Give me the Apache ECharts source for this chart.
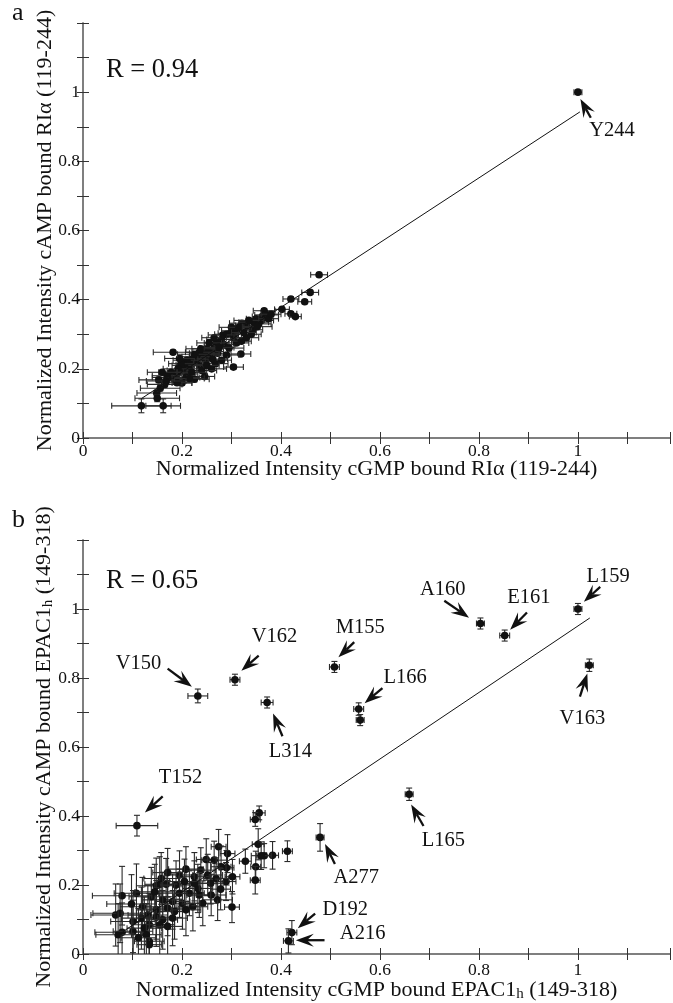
<!DOCTYPE html>
<html>
<head>
<meta charset="utf-8">
<script src="https://cdn.jsdelivr.net/npm/echarts@6/dist/echarts.min.js"></script>
<style>
  html, body { margin: 0; padding: 0; background: #fff; }
  #chart { width: 673px; height: 1003px; }
</style>
</head>
<body>
<div id="chart"></div>
<script>
// panel a: [x, y, xerr, yerr]
const aPoints = [
  [1.0, 1.0, 0.008, 0.004], [0.477, 0.472, 0.017, 0.006], [0.459, 0.421, 0.017, 0.006],
  [0.420, 0.402, 0.016, 0.006], [0.448, 0.394, 0.014, 0.006], [0.402, 0.372, 0.015, 0.006],
  [0.420, 0.359, 0.012, 0.005], [0.429, 0.351, 0.012, 0.005], [0.366, 0.368, 0.022, 0.006],
  [0.362, 0.351, 0.020, 0.006], [0.371, 0.356, 0.024, 0.006], [0.350, 0.345, 0.020, 0.006],
  [0.343, 0.313, 0.020, 0.006], [0.355, 0.330, 0.025, 0.006], [0.330, 0.325, 0.022, 0.006],
  [0.321, 0.332, 0.025, 0.006], [0.310, 0.310, 0.030, 0.006], [0.298, 0.303, 0.025, 0.006],
  [0.290, 0.300, 0.024, 0.006], [0.305, 0.290, 0.020, 0.006], [0.319, 0.243, 0.020, 0.005],
  [0.304, 0.205, 0.020, 0.006], [0.280, 0.285, 0.030, 0.006], [0.285, 0.270, 0.022, 0.006],
  [0.270, 0.275, 0.025, 0.006], [0.265, 0.260, 0.030, 0.006], [0.272, 0.245, 0.020, 0.006],
  [0.260, 0.250, 0.024, 0.006], [0.250, 0.258, 0.030, 0.006], [0.255, 0.240, 0.020, 0.006],
  [0.245, 0.245, 0.030, 0.006], [0.240, 0.232, 0.025, 0.006], [0.248, 0.225, 0.020, 0.006],
  [0.235, 0.248, 0.028, 0.006], [0.230, 0.235, 0.030, 0.006], [0.228, 0.220, 0.025, 0.006],
  [0.235, 0.210, 0.020, 0.006], [0.222, 0.230, 0.025, 0.006], [0.218, 0.212, 0.030, 0.006],
  [0.215, 0.200, 0.022, 0.006], [0.210, 0.225, 0.028, 0.006], [0.205, 0.210, 0.025, 0.006],
  [0.200, 0.195, 0.030, 0.006], [0.212, 0.185, 0.020, 0.006], [0.198, 0.215, 0.025, 0.006],
  [0.192, 0.200, 0.030, 0.006], [0.190, 0.185, 0.025, 0.006], [0.185, 0.170, 0.030, 0.006],
  [0.200, 0.159, 0.020, 0.006], [0.182, 0.248, 0.040, 0.006], [0.195, 0.230, 0.030, 0.006],
  [0.178, 0.190, 0.025, 0.006], [0.175, 0.175, 0.035, 0.006], [0.246, 0.178, 0.020, 0.008],
  [0.225, 0.170, 0.030, 0.008], [0.260, 0.200, 0.030, 0.006], [0.268, 0.215, 0.025, 0.006],
  [0.280, 0.225, 0.020, 0.006], [0.290, 0.240, 0.025, 0.006], [0.295, 0.260, 0.030, 0.006],
  [0.310, 0.275, 0.025, 0.006], [0.320, 0.280, 0.020, 0.006], [0.330, 0.290, 0.025, 0.006],
  [0.340, 0.300, 0.020, 0.006], [0.345, 0.335, 0.030, 0.006], [0.360, 0.340, 0.025, 0.006],
  [0.375, 0.345, 0.020, 0.006], [0.380, 0.358, 0.020, 0.006], [0.149, 0.130, 0.040, 0.008],
  [0.156, 0.144, 0.040, 0.008], [0.153, 0.168, 0.040, 0.008], [0.165, 0.155, 0.035, 0.008],
  [0.170, 0.180, 0.030, 0.006], [0.160, 0.190, 0.030, 0.006], [0.118, 0.093, 0.060, 0.020],
  [0.162, 0.093, 0.035, 0.020], [0.150, 0.115, 0.045, 0.010], [0.240, 0.195, 0.030, 0.006],
  [0.250, 0.210, 0.025, 0.006], [0.220, 0.190, 0.030, 0.006], [0.208, 0.175, 0.028, 0.006],
  [0.190, 0.160, 0.030, 0.006], [0.255, 0.275, 0.025, 0.006], [0.265, 0.290, 0.025, 0.006],
  [0.300, 0.320, 0.025, 0.006], [0.315, 0.320, 0.020, 0.006], [0.335, 0.340, 0.030, 0.006],
  [0.226, 0.242, 0.035, 0.006], [0.238, 0.258, 0.030, 0.006], [0.275, 0.262, 0.030, 0.006],
  [0.262, 0.228, 0.030, 0.006], [0.215, 0.172, 0.030, 0.008], [0.283, 0.298, 0.030, 0.006],
  [0.325, 0.305, 0.025, 0.006], [0.352, 0.322, 0.030, 0.006], [0.168, 0.165, 0.040, 0.008]
];
const aFitX = [0.118, 1.004];
const aFitY = [0.114, 0.943];
const aNotes = ['Y244'];
const aNoteAt = [[1.069, 0.89]];
const aArrowFrom = [[1.026, 0.926]];
const aArrowTo = [[1.005, 0.98]];

// panel b: [x, y, xerr, yerr]
const bPoints = [
  [1.000, 1.000, 0.008, 0.016], [0.803, 0.958, 0.008, 0.016], [0.852, 0.923, 0.010, 0.016],
  [1.023, 0.837, 0.008, 0.018], [0.508, 0.832, 0.010, 0.016], [0.307, 0.795, 0.010, 0.016],
  [0.232, 0.748, 0.020, 0.020], [0.372, 0.729, 0.012, 0.016], [0.557, 0.710, 0.010, 0.018],
  [0.560, 0.678, 0.008, 0.016], [0.659, 0.463, 0.008, 0.018], [0.109, 0.372, 0.042, 0.030],
  [0.479, 0.338, 0.008, 0.040], [0.422, 0.062, 0.010, 0.035], [0.415, 0.038, 0.010, 0.035],
  [0.356, 0.409, 0.012, 0.020], [0.348, 0.390, 0.010, 0.020], [0.413, 0.298, 0.010, 0.030],
  [0.354, 0.318, 0.012, 0.045], [0.383, 0.286, 0.012, 0.040], [0.366, 0.285, 0.015, 0.035],
  [0.360, 0.285, 0.020, 0.040], [0.349, 0.253, 0.010, 0.045], [0.348, 0.214, 0.010, 0.040],
  [0.328, 0.269, 0.012, 0.035], [0.274, 0.311, 0.015, 0.050], [0.292, 0.291, 0.015, 0.055],
  [0.249, 0.274, 0.020, 0.060], [0.265, 0.272, 0.025, 0.055], [0.279, 0.253, 0.020, 0.060],
  [0.290, 0.250, 0.015, 0.050], [0.302, 0.224, 0.015, 0.050], [0.289, 0.210, 0.020, 0.055],
  [0.269, 0.219, 0.025, 0.060], [0.252, 0.229, 0.030, 0.060], [0.238, 0.243, 0.030, 0.065],
  [0.225, 0.224, 0.030, 0.070], [0.208, 0.246, 0.035, 0.065], [0.195, 0.229, 0.030, 0.070],
  [0.171, 0.236, 0.030, 0.070], [0.158, 0.219, 0.035, 0.075], [0.155, 0.202, 0.030, 0.080],
  [0.168, 0.202, 0.030, 0.075], [0.148, 0.198, 0.040, 0.080], [0.188, 0.200, 0.030, 0.070],
  [0.195, 0.176, 0.035, 0.070], [0.215, 0.176, 0.030, 0.065], [0.232, 0.190, 0.030, 0.070],
  [0.235, 0.171, 0.025, 0.065], [0.259, 0.171, 0.030, 0.060], [0.272, 0.157, 0.030, 0.060],
  [0.242, 0.147, 0.030, 0.065], [0.222, 0.137, 0.030, 0.070], [0.201, 0.147, 0.035, 0.075],
  [0.181, 0.152, 0.035, 0.080], [0.161, 0.157, 0.040, 0.080], [0.138, 0.166, 0.045, 0.085],
  [0.108, 0.176, 0.045, 0.085], [0.079, 0.169, 0.060, 0.085], [0.301, 0.136, 0.015, 0.045],
  [0.120, 0.137, 0.045, 0.085], [0.148, 0.128, 0.040, 0.085], [0.171, 0.133, 0.035, 0.080],
  [0.185, 0.123, 0.030, 0.080], [0.208, 0.128, 0.030, 0.075], [0.066, 0.113, 0.050, 0.090],
  [0.075, 0.118, 0.055, 0.085], [0.101, 0.094, 0.045, 0.090], [0.118, 0.104, 0.040, 0.090],
  [0.131, 0.113, 0.040, 0.085], [0.148, 0.107, 0.035, 0.085], [0.161, 0.099, 0.030, 0.085],
  [0.181, 0.104, 0.030, 0.080], [0.134, 0.085, 0.035, 0.090], [0.155, 0.085, 0.030, 0.090],
  [0.171, 0.080, 0.030, 0.085], [0.079, 0.063, 0.055, 0.085], [0.071, 0.056, 0.045, 0.090],
  [0.101, 0.066, 0.040, 0.090], [0.124, 0.075, 0.035, 0.090], [0.134, 0.037, 0.030, 0.085],
  [0.134, 0.027, 0.025, 0.075], [0.128, 0.056, 0.030, 0.090], [0.112, 0.047, 0.035, 0.085],
  [0.258, 0.205, 0.025, 0.060], [0.278, 0.188, 0.020, 0.060], [0.225, 0.205, 0.030, 0.065],
  [0.205, 0.210, 0.030, 0.065], [0.145, 0.180, 0.040, 0.080], [0.098, 0.145, 0.050, 0.085]
];
const bFitX = [0.08, 1.024];
const bFitY = [0.064, 0.974];
const bNotes = ['L159', 'A160', 'E161', 'M155', 'V162', 'V150', 'L314', 'L166', 'V163', 'T152', 'L165', 'A277', 'D192', 'A216'];
const bNoteAt = [[1.061, 1.094], [0.727, 1.056], [0.901, 1.032], [0.56, 0.945], [0.387, 0.919], [0.112, 0.842], [0.419, 0.587],
  [0.651, 0.801], [1.009, 0.683], [0.197, 0.51], [0.728, 0.33], [0.552, 0.221], [0.53, 0.128], [0.565, 0.058]];
const bArrowFrom = [[1.045, 1.064], [0.730, 1.024], [0.897, 0.990], [0.548, 0.904], [0.355, 0.865], [0.171, 0.827], [0.403, 0.631],
  [0.605, 0.771], [1.004, 0.746], [0.161, 0.457], [0.688, 0.371], [0.509, 0.261], [0.469, 0.117], [0.488, 0.04]];
const bArrowTo = [[1.012, 1.021], [0.780, 0.975], [0.863, 0.940], [0.516, 0.860], [0.320, 0.821], [0.220, 0.775], [0.384, 0.697],
  [0.569, 0.727], [1.019, 0.813], [0.125, 0.410], [0.663, 0.433], [0.489, 0.319], [0.434, 0.075], [0.430, 0.04]];

const FONT = 'Liberation Serif';
const INK = '#111';
const XMAX = 1.186;

function tickLabel(v) {
  const r = Math.round(v * 10);
  return (r % 2 === 0 && r <= 10) ? String(r / 10) : '';
}

function renderErr(params, api) {
  const x = api.value(0), y = api.value(1), ex = api.value(2), ey = api.value(3);
  const c = api.coord([x, y]);
  const l = api.coord([x - ex, y])[0], r = api.coord([x + ex, y])[0];
  const t = api.coord([x, y + ey])[1], b = api.coord([x, y - ey])[1];
  const cap = 3;
  const st = { stroke: '#2a2a2a', lineWidth: 1.1 };
  return {
    type: 'group',
    children: [
      { type: 'line', shape: { x1: l, y1: c[1], x2: r, y2: c[1] }, style: st },
      { type: 'line', shape: { x1: l, y1: c[1] - cap, x2: l, y2: c[1] + cap }, style: st },
      { type: 'line', shape: { x1: r, y1: c[1] - cap, x2: r, y2: c[1] + cap }, style: st },
      { type: 'line', shape: { x1: c[0], y1: t, x2: c[0], y2: b }, style: st },
      { type: 'line', shape: { x1: c[0] - cap, y1: t, x2: c[0] + cap, y2: t }, style: st },
      { type: 'line', shape: { x1: c[0] - cap, y1: b, x2: c[0] + cap, y2: b }, style: st },
      { type: 'circle', shape: { cx: c[0], cy: c[1], r: 3.8 }, style: { fill: INK } }
    ]
  };
}

function makeNotes(names) {
  return function (params, api) {
    const tp = api.coord([api.value(0), api.value(1)]);
    const p0 = api.coord([api.value(2), api.value(3)]);
    const p1 = api.coord([api.value(4), api.value(5)]);
    let dx = p1[0] - p0[0], dy = p1[1] - p0[1];
    const len = Math.sqrt(dx * dx + dy * dy);
    dx /= len; dy /= len;
    const nx = -dy, ny = dx;
    const L = 18, W = 13;
    const back = [p1[0] - dx * L, p1[1] - dy * L];
    const notch = [p1[0] - dx * L * 0.62, p1[1] - dy * L * 0.62];
    return {
      type: 'group',
      children: [
        { type: 'line', shape: { x1: p0[0], y1: p0[1], x2: notch[0], y2: notch[1] }, style: { stroke: INK, lineWidth: 2.3 } },
        { type: 'polygon', shape: { points: [p1, [back[0] + nx * W / 2, back[1] + ny * W / 2], notch, [back[0] - nx * W / 2, back[1] - ny * W / 2]] }, style: { fill: INK } },
        { type: 'text', x: tp[0], y: tp[1], style: { text: names[params.dataIndex], align: 'center', verticalAlign: 'middle', fontSize: 20.5, fontFamily: FONT, fill: INK } }
      ]
    };
  };
}

function noteData(at, from, to) {
  return at.map((p, i) => [p[0], p[1], from[i][0], from[i][1], to[i][0], to[i][1]]);
}

const richSub = {
  sub: { fontSize: 15, fontFamily: FONT, color: INK, padding: [9, 0, 0, 0] }
};

function xAxes(grid, name, labelMargin, nameGap) {
  return [{
    gridIndex: grid, type: 'value', min: 0, max: XMAX, interval: 0.1, position: 'bottom',
    name: name, nameLocation: 'middle', nameGap: nameGap, nameMoveOverlap: false,
    nameTextStyle: { fontFamily: FONT, fontSize: 22, color: INK, rich: richSub },
    axisLine: { lineStyle: { color: '#777', width: 1.5 } },
    axisTick: { inside: true, length: 6, lineStyle: { color: '#333' } },
    axisLabel: { formatter: tickLabel, fontFamily: FONT, fontSize: 17.5, color: INK, margin: labelMargin },
    splitLine: { show: false }
  }, {
    gridIndex: grid, type: 'value', min: 0, max: XMAX, interval: 0.1, position: 'top',
    axisLine: { lineStyle: { color: '#777', width: 1.5 } },
    axisTick: { inside: true, length: 6, lineStyle: { color: '#333' } },
    axisLabel: { show: false }, splitLine: { show: false }
  }];
}

function yAxes(grid, name) {
  return [{
    gridIndex: grid, type: 'value', min: 0, max: 1.2, interval: 0.1, position: 'left',
    name: name, nameLocation: 'middle', nameGap: 27, nameRotate: 90, nameMoveOverlap: false,
    nameTextStyle: { fontFamily: FONT, fontSize: 22, color: INK, rich: richSub },
    axisLine: { lineStyle: { color: '#777', width: 1.5 } },
    axisTick: { inside: true, length: 6, lineStyle: { color: '#333' } },
    axisLabel: { formatter: tickLabel, fontFamily: FONT, fontSize: 17.5, color: INK, margin: 3 },
    splitLine: { show: false }
  }, {
    gridIndex: grid, type: 'value', min: 0, max: 1.2, interval: 0.1, position: 'right',
    axisLine: { lineStyle: { color: '#777', width: 1.5 } },
    axisTick: { inside: true, length: 6, lineStyle: { color: '#333' } },
    axisLabel: { show: false }, splitLine: { show: false }
  }];
}

function titleText(text, left, top, size) {
  return { text: text, left: left, top: top, padding: 0,
    textStyle: { fontFamily: FONT, fontSize: size, fontWeight: 'normal', color: INK } };
}

const chart = echarts.init(document.getElementById('chart'), null, { renderer: 'canvas' });
chart.setOption({
  animation: false,
  backgroundColor: '#fff',
  title: [
    titleText('a', 12, 0, 26),
    titleText('b', 12, 507, 26),
    titleText('R = 0.94', 106, 57, 26.5),
    titleText('R = 0.65', 106, 568, 26.5)
  ],
  grid: [
    { left: 83, top: 23, width: 589, height: 415 },
    { left: 83, top: 540, width: 589, height: 416 }
  ],
  xAxis: [].concat(
    xAxes(0, 'Normalized Intensity cGMP bound RIα (119-244)', 4, 20),
    xAxes(1, 'Normalized Intensity cGMP bound EPAC1{sub|h} (149-318)', 7, 24)
  ),
  yAxis: [].concat(
    yAxes(0, 'Normalized Intensity cAMP bound RIα (119-244)'),
    yAxes(1, 'Normalized Intensity cAMP bound EPAC1{sub|h} (149-318)')
  ),
  series: [
    {
      type: 'line', xAxisIndex: 0, yAxisIndex: 0, symbol: 'none',
      data: aFitX.map((x, i) => [x, aFitY[i]]),
      lineStyle: { color: INK, width: 1 }
    },
    {
      type: 'custom', xAxisIndex: 0, yAxisIndex: 0, clip: true,
      renderItem: renderErr, encode: { x: 0, y: 1 }, data: aPoints
    },
    {
      type: 'custom', xAxisIndex: 0, yAxisIndex: 0,
      renderItem: makeNotes(aNotes), encode: { x: 0, y: 1 },
      data: noteData(aNoteAt, aArrowFrom, aArrowTo)
    },
    {
      type: 'line', xAxisIndex: 2, yAxisIndex: 2, symbol: 'none',
      data: bFitX.map((x, i) => [x, bFitY[i]]),
      lineStyle: { color: INK, width: 1 }
    },
    {
      type: 'custom', xAxisIndex: 2, yAxisIndex: 2, clip: true,
      renderItem: renderErr, encode: { x: 0, y: 1 }, data: bPoints
    },
    {
      type: 'custom', xAxisIndex: 2, yAxisIndex: 2,
      renderItem: makeNotes(bNotes), encode: { x: 0, y: 1 },
      data: noteData(bNoteAt, bArrowFrom, bArrowTo)
    }
  ]
});
</script>
</body>
</html>
